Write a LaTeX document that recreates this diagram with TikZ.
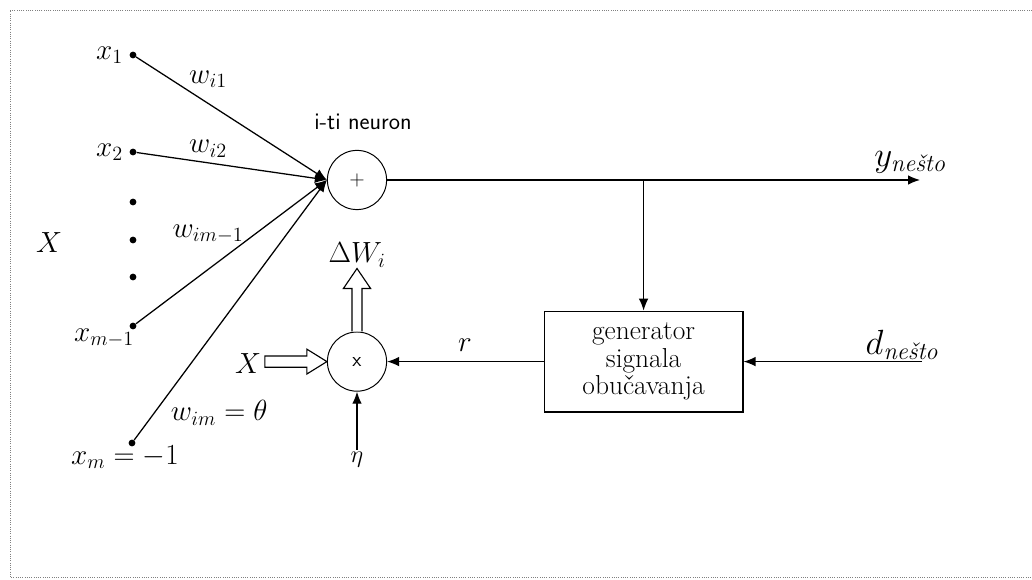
\documentclass[tikz,border=0pt]{standalone}
\usepackage{amsmath,amssymb}
\usepackage{tikz}
\usetikzlibrary{arrows.meta,positioning,calc}

\begin{document}
\begin{tikzpicture}[
    x=1cm,y=1cm,
    font=\huge,
    dot/.style={circle, fill=black, inner sep=0pt, minimum size=1.7mm},
    neuron/.style={circle, draw, line width=0.7pt, minimum size=1.48cm, inner sep=0pt, font=\sffamily\Large},
    genbox/.style={draw, line width=0.8pt, minimum width=4.97cm, minimum height=2.52cm, align=center, font=\fontsize{19.5}{19.5}\selectfont},
    sig/.style={-{Latex[length=3mm,width=2.4mm]}, line width=0.9pt},
    hollow/.style={draw, line width=0.8pt, fill=white, line join=miter},
    frame/.style={densely dotted, line width=0.6pt, gray}
  ]
    \useasboundingbox (0,0) rectangle (25.8,14.5);
    % Okvir
    \draw[frame] (25.8,14.25) -- (0.25,14.25) -- (0.25,0.07) -- (25.8,0.07);

    % Ulazi
    \node[dot] (x1)  at (3.325,13.125) {};
    \node[dot] (x2)  at (3.325,10.7) {};
    \foreach \y [count=\i] in {9.45,8.5,7.575}
      \node[dot] (d\i) at (3.325,\y) {};
    \node[dot] (xm1) at (3.325,6.35) {};
    \node[dot] (xm)  at (3.3,3.425) {};

    \node[left=1pt of x1] (lx1) {$x_1$};
    \node[left=1pt of x2] (lx2) {$x_2$};
    \node (lxm1) at (2.6,6.05) {$x_{m-1}$};
    \node (lxm)  at (3.125,3.075) {$x_m = -1$};
    \node (lX) at (1.225,8.44) {$X$};

    % Neuron
    \node[neuron] (sum) at (8.925,10.0) {+};
    \node[font=\sffamily\fontsize{17}{20}\selectfont] (lneur) at (9.075,11.45) {i-ti neuron};

    \foreach \s in {x1,x2,xm1,xm}
      \draw[sig] (\s) -- (sum.west);

    % Tezine
    \node (w1)  at (5.2,12.525) {$w_{i1}$};
    \node (w2)  at (5.2,10.78)  {$w_{i2}$};
    \node (wm1) at (5.2,8.65)   {$w_{im-1}$};
    \node (wm)  at (5.48,4.175) {$w_{im} = \theta$};

    % Izlaz
    \coordinate (yout) at (23.0,10.0);
    \draw[sig] (sum.east) -- (yout);
    \node (ly) at (22.75,10.45) {\Huge $y_{\text{\LARGE\itshape nešto}}$};

    % Generator
    \node[genbox] (gen) at (16.09,5.46) {generator\\signala\\obučavanja};
    \draw[sig] (sum.east -| gen.north) -- (gen.north);

    \coordinate (din) at (23.05,5.46);
    \draw[sig] (din) -- (gen.east);
    \node (ld) at (22.55,5.88) {\Huge $d_{\text{\LARGE\itshape nešto}}$};

    % Mnozenje
    \node[neuron] (mul) at (8.925,5.46) {x};
    \draw[sig] (gen.west) -- (mul.east);
    \node (lr) at (11.625,5.875) {$r$};

    \coordinate (eta) at (8.925,3.25);
    \draw[sig] (eta) -- (mul.south);
    \node[below=-2pt of eta, font=\LARGE] (leta) {$\eta$};

    % Suplje strelice
    \draw[hollow] ($(mul.north)+(-0.125,0)$) -- ++(0,1.075) -- ++(-0.215,0)
      -- ($(mul.north)+(0,1.575)$) -- ($(mul.north)+(0.34,1.075)$) -- ++(-0.215,0)
      -- ($(mul.north)+(0.125,0)$);
    \node (ldw) at (8.925,8.125) {$\Delta W_i$};

    \draw[hollow] ($(mul.west)+(-1.55,-0.14)$) -- ++(1.05,0) -- ++(0,-0.17)
      -- (mul.west) -- ($(mul.west)+(-0.5,0.31)$) -- ++(0,-0.17)
      -- ($(mul.west)+(-1.55,0.14)$) -- cycle;
    \node (lXin) at (6.2,5.4) {$X$};
  \end{tikzpicture}
\end{document}
